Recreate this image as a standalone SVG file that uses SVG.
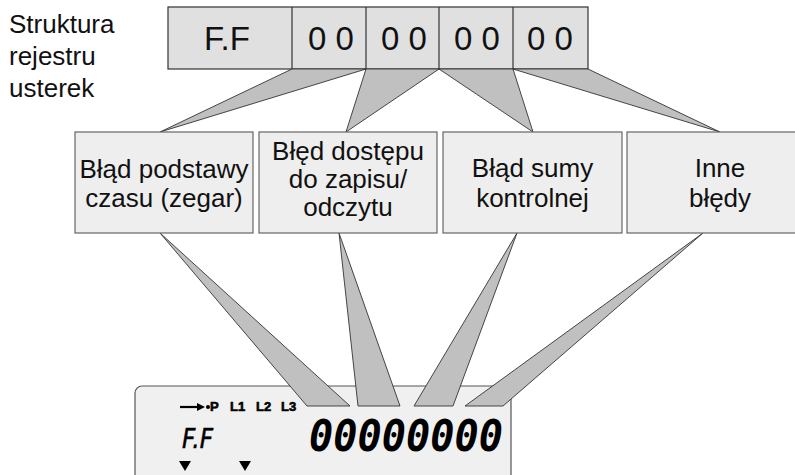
<svg xmlns="http://www.w3.org/2000/svg" width="795" height="475" viewBox="0 0 795 475">
<style>
.t{font-family:"Liberation Sans",Arial,sans-serif;font-size:26px;fill:#111}
.reg{font-family:"Liberation Sans",Arial,sans-serif;font-size:33px;fill:#111;text-anchor:middle}
.node{fill:#eeeeee;stroke:#666;stroke-width:1.2}
.wedge{fill:#c0c0c0;stroke:#333;stroke-width:0.9;stroke-linejoin:miter}
.lcdb{font-family:"Liberation Sans",Arial,sans-serif;font-weight:bold;font-size:13px;fill:#000;stroke:#000;stroke-width:0.6}
</style>
<rect width="795" height="475" fill="#fff"/>
<g id="label">
<text class="t" x="9" y="33">Struktura</text>
<text class="t" x="9" y="65">rejestru</text>
<text class="t" x="9" y="97">usterek</text>
</g>
<g id="register">
<rect x="168" y="7" width="420" height="62" fill="#e0e0e0" stroke="#333" stroke-width="1.2"/>
<line x1="292" y1="7" x2="292" y2="69" stroke="#333" stroke-width="1.2"/>
<line x1="366" y1="7" x2="366" y2="69" stroke="#333" stroke-width="1.2"/>
<line x1="439" y1="7" x2="439" y2="69" stroke="#333" stroke-width="1.2"/>
<line x1="513" y1="7" x2="513" y2="69" stroke="#333" stroke-width="1.2"/>
<text class="reg" x="227" y="50">F.F</text>
<text class="reg" x="331" y="50">0 0</text>
<text class="reg" x="404" y="50">0 0</text>
<text class="reg" x="477" y="50">0 0</text>
<text class="reg" x="550" y="50">0 0</text>
</g>
<g id="lcd">
<rect x="135" y="386" width="376" height="110" rx="7" fill="#f0f0f0" stroke="#555" stroke-width="1.2"/>
<line x1="180" y1="407" x2="200" y2="407" stroke="#000" stroke-width="2.2"/>
<polygon points="197,403 205,407 197,411" fill="#000"/>
<circle cx="208" cy="407" r="2" fill="#000"/>
<text class="lcdb" x="210" y="410.5" font-size="9px" stroke-width="0.4">P</text>
<text class="lcdb" x="230" y="410.5">L1</text>
<text class="lcdb" x="256" y="410.5">L2</text>
<text class="lcdb" x="281" y="410.5">L3</text>
<text x="182" y="448" font-family="'DejaVu Sans',sans-serif" font-size="26px" font-style="italic" textLength="31" lengthAdjust="spacingAndGlyphs" fill="#000" stroke="#000" stroke-width="0.5">F.F</text>
<text x="309" y="451" font-family="'DejaVu Sans Mono',monospace" font-weight="bold" font-style="oblique" font-size="44px" textLength="194" lengthAdjust="spacingAndGlyphs" fill="#000">00000000</text>
<polygon points="179,461 191,461 185,471" fill="#000"/>
<polygon points="239,461 251,461 245,471" fill="#000"/>
</g>
<g id="connectors">
<polygon class="wedge" points="292,69 366,69 160,132"/>
<polygon class="wedge" points="366,69 439,69 346,132"/>
<polygon class="wedge" points="439,69 513,69 533,132"/>
<polygon class="wedge" points="513,69 588,69 720,132"/>
<polygon class="wedge" points="160,233 350,406 307,406"/>
<polygon class="wedge" points="339,233 400,406 358,406"/>
<polygon class="wedge" points="517,233 453,406 414,406"/>
<polygon class="wedge" points="703,233 503,406 465,406"/>
</g>
<g id="node1">
<rect class="node" x="75" y="132" width="178" height="101"/>
<text class="t" x="164" y="178" text-anchor="middle">Błąd podstawy</text>
<text class="t" x="164" y="207" text-anchor="middle">czasu (zegar)</text>
</g>
<g id="node2">
<rect class="node" x="259" y="132" width="178" height="101"/>
<text class="t" x="348" y="160" text-anchor="middle">Błęd dostępu</text>
<text class="t" x="348" y="188" text-anchor="middle">do zapisu/</text>
<text class="t" x="348" y="216" text-anchor="middle">odczytu</text>
</g>
<g id="node3">
<rect class="node" x="443" y="132" width="179" height="101"/>
<text class="t" x="532.5" y="177" text-anchor="middle">Błąd sumy</text>
<text class="t" x="532.5" y="207" text-anchor="middle">kontrolnej</text>
</g>
<g id="node4">
<rect class="node" x="627" y="132" width="186" height="101"/>
<text class="t" x="720" y="177" text-anchor="middle">Inne</text>
<text class="t" x="720" y="207" text-anchor="middle">błędy</text>
</g>
</svg>
